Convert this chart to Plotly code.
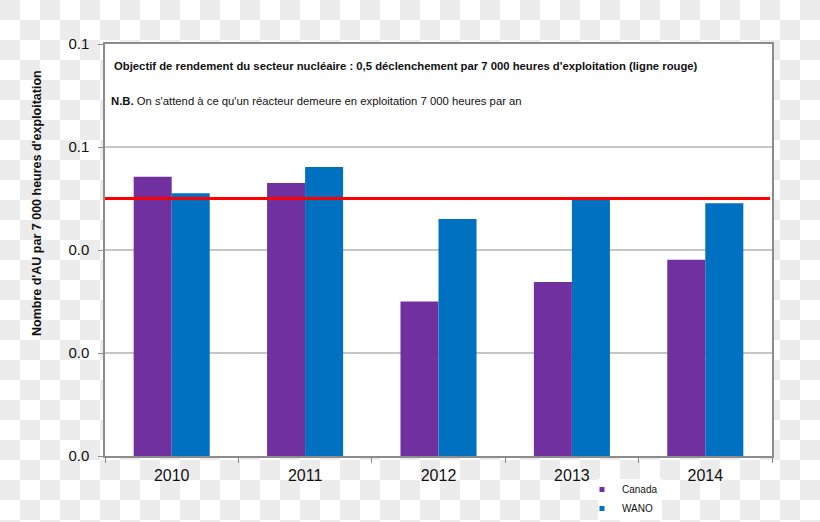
import base64
import plotly.graph_objects as go

years = ["2010", "2011", "2012", "2013", "2014"]
canada = [0.0542, 0.0530, 0.0300, 0.0338, 0.0381]
wano = [0.0510, 0.0561, 0.0460, 0.0498, 0.0491]
target = 0.05
y_ticks = [0, 0.02, 0.04, 0.06, 0.08]

C_CANADA = "#7030a0"
C_WANO = "#0070c0"

W, H = 820, 522
ML, MR, MT, MB = 105, 48, 44, 66
PW, PH = W - ML - MR, H - MT - MB

# checkerboard backdrop (transparent-image look), white plot area and legend box
svg = (
    f'<svg xmlns="http://www.w3.org/2000/svg" width="{W}" height="{H}" viewBox="0 0 {W} {H}">'
    '<defs><pattern id="p" width="40" height="40" patternUnits="userSpaceOnUse">'
    '<rect width="40" height="40" fill="#ffffff"/>'
    '<rect x="0" y="0" width="20" height="20" fill="#ececec"/>'
    '<rect x="20" y="20" width="20" height="20" fill="#ececec"/>'
    '</pattern></defs>'
    f'<rect width="{W}" height="{H}" fill="url(#p)"/>'
    f'<rect x="{ML}" y="{MT}" width="{PW}" height="{PH}" fill="#ffffff"/>'
    '<rect x="598" y="479" width="64" height="41" fill="#ffffff"/>'
    '</svg>'
)
img_src = "data:image/svg+xml;base64," + base64.b64encode(svg.encode()).decode()

fig = go.Figure()
fig.add_trace(go.Bar(x=years, y=canada, name="Canada", marker_color=C_CANADA,
                     marker_line_width=0, showlegend=False))
fig.add_trace(go.Bar(x=years, y=wano, name="WANO", marker_color=C_WANO,
                     marker_line_width=0, showlegend=False))
# legend-only entries with small square symbols
fig.add_trace(go.Scatter(x=[None], y=[None], mode="markers", name="Canada",
                         marker=dict(symbol="square", size=5, color=C_CANADA)))
fig.add_trace(go.Scatter(x=[None], y=[None], mode="markers", name="WANO",
                         marker=dict(symbol="square", size=5, color=C_WANO)))

fig.add_shape(type="line", xref="paper", yref="y", x0=0, x1=0.997, y0=target, y1=target,
              line=dict(color="#ff0000", width=3), layer="above")

fig.add_layout_image(dict(source=img_src, xref="paper", yref="paper",
                          x=-ML / PW, y=1 + MT / PH, sizex=W / PW, sizey=H / PH,
                          xanchor="left", yanchor="top", sizing="stretch", layer="below"))

FONT = "Liberation Sans, Arial, sans-serif"
fig.add_annotation(xref="paper", yref="paper", x=(112 - ML) / PW, y=1 - (66 - MT) / PH,
                   xanchor="left", yanchor="middle", showarrow=False,
                   text="<b>Objectif de rendement du secteur nucléaire : 0,5 déclenchement par 7 000 heures d'exploitation (ligne rouge)</b>",
                   font=dict(size=11.3, color="#111111", family=FONT))
fig.add_annotation(xref="paper", yref="paper", x=(109 - ML) / PW, y=1 - (101 - MT) / PH,
                   xanchor="left", yanchor="middle", showarrow=False,
                   text="<b>N.B.</b> On s'attend à ce qu'un réacteur demeure en exploitation 7 000 heures par an",
                   font=dict(size=11.3, color="#111111", family=FONT))
fig.add_annotation(xref="paper", yref="paper", x=(37 - ML) / PW, y=1 - (203 - MT) / PH,
                   xanchor="center", yanchor="middle", showarrow=False, textangle=-90,
                   text="<b>Nombre d'AU par 7 000 heures d'exploitation</b>",
                   font=dict(size=12.5, color="#111111", family=FONT))

fig.update_layout(
    width=W, height=H,
    margin=dict(l=ML, r=MR, t=MT, b=MB, pad=0, autoexpand=False),
    paper_bgcolor="#ffffff", plot_bgcolor="rgba(0,0,0,0)",
    barmode="group", bargap=0.43, bargroupgap=0,
    font=dict(family=FONT, color="#111111"),
    legend=dict(x=(582 - ML) / PW, y=1 - (475 - MT) / PH, xanchor="left", yanchor="top",
                bgcolor="rgba(255,255,255,0)", font=dict(size=10, color="#111111"),
                itemwidth=30, tracegroupgap=0),
)
fig.update_xaxes(type="category", showgrid=False, showline=True, linecolor="#8c8c8c",
                 linewidth=1.5, mirror=True, ticks="outside", tickson="boundaries",
                 ticklen=5, tickcolor="#8c8c8c", ticklabelstandoff=4,
                 tickfont=dict(size=16, color="#111111"))
fig.update_yaxes(range=[0, 0.08], tickvals=y_ticks, tickformat=".1f", showgrid=True,
                 gridcolor="#c6c6c6", gridwidth=1.5, showline=True, linecolor="#8c8c8c",
                 linewidth=1.5, mirror=True, ticks="outside", ticklen=5, tickcolor="#8c8c8c",
                 ticklabelstandoff=6, tickfont=dict(size=15, color="#111111"), zeroline=False)

fig.write_html("out.html", config={"displayModeBar": False},
               post_script="document.body.style.margin='0';document.body.style.overflow='hidden';")
